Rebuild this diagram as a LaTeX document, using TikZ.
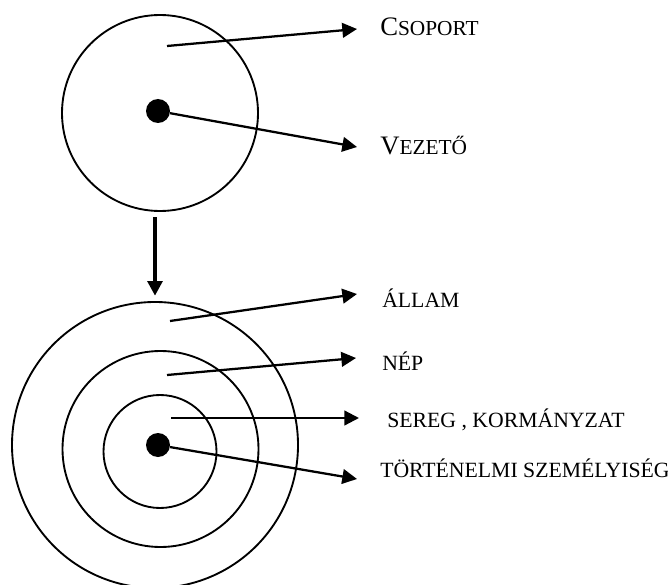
\documentclass[tikz,border=0pt]{standalone}
\usepackage{fontspec}
\setmainfont{Liberation Serif}
\usepackage{tikz}
\usetikzlibrary{arrows.meta}
\tikzset{
 ring/.style={
 circle,
 draw=black,
 line width=1.4pt,
 inner sep=0pt
 },
 core/.style={
 circle,
 fill=black,
 inner sep=0pt,
 minimum size=18pt
 },
 tag/.style={
 anchor=west,
 inner sep=0pt,
 text height=10.8pt,
 text depth=0pt,
 font=\fontsize{16.3}{19}\selectfont
 },
 captag/.style={
 tag,
 text height=13.2pt,
 font=\fontsize{16}{19}\selectfont
 },
 pointer/.style={-{Triangle[length=11pt, width=11pt]}, line width=1.7pt},
 droparrow/.style={-{Triangle[length=11pt, width=11pt]}, line width=3.5pt}
}
\newcommand{\bigini}[1]{{\fontsize{20}{24}\selectfont #1}}

\begin{document}
\begin{tikzpicture}[x=0.75pt, y=-0.75pt]
 \useasboundingbox (0,0) rectangle (668,585);

 % upper picture: group and leader
 \node[ring, minimum size=147pt] (group) at (160,113) {};
 \node[core] (leader) at (158,111) {};
 \coordinate (groupin) at (167,46);

 \node[captag] (csoport) at (380,26.5) {\bigini{C}SOPORT};
 \node[captag] (vezeto) at (380,145.5) {\bigini{V}EZETŐ};

 \draw[pointer] (groupin) -- ([shift={(-23,2.5)}]csoport.west);
 \draw[pointer] (leader) -- ([shift={(-23,1.5)}]vezeto.west);

 % lower picture: nested rings
 \node[ring, minimum size=214.5pt] (state) at (155,445) {};
 \node[ring, minimum size=147pt] (people) at (160.5,449) {};
 \node[ring, minimum size=84.75pt] (army) at (160,451.5) {};
 \node[core] (hero) at (158,445) {};
 \coordinate (statein) at (170,321);
 \coordinate (peoplein) at (167,375);
 \coordinate (armyin) at (171,418);
 \coordinate (drop) at (155,217);

 \draw[droparrow] (drop) -- ([yshift=4pt]state.north);

 \node[tag] (allam) at (382,300) {ÁLLAM};
 \node[tag] (nep) at (382,362.8) {NÉP};
 \node[tag] (sereg) at (387,420.3) {SEREG , KORMÁNYZAT};
 \node[tag] (tortenelmi) at (380,470.5) {TÖRTÉNELMI SZEMÉLYISÉG};

 \draw[pointer] (statein) -- ([shift={(-25,-6)}]allam.west);
 \draw[pointer] (peoplein) -- ([shift={(-26,-4.8)}]nep.west);
 \draw[pointer] (armyin) -- ([shift={(-28,-2.3)}]sereg.west);
 \draw[pointer] (hero) -- ([shift={(-23,8.5)}]tortenelmi.west);
\end{tikzpicture}
\end{document}
